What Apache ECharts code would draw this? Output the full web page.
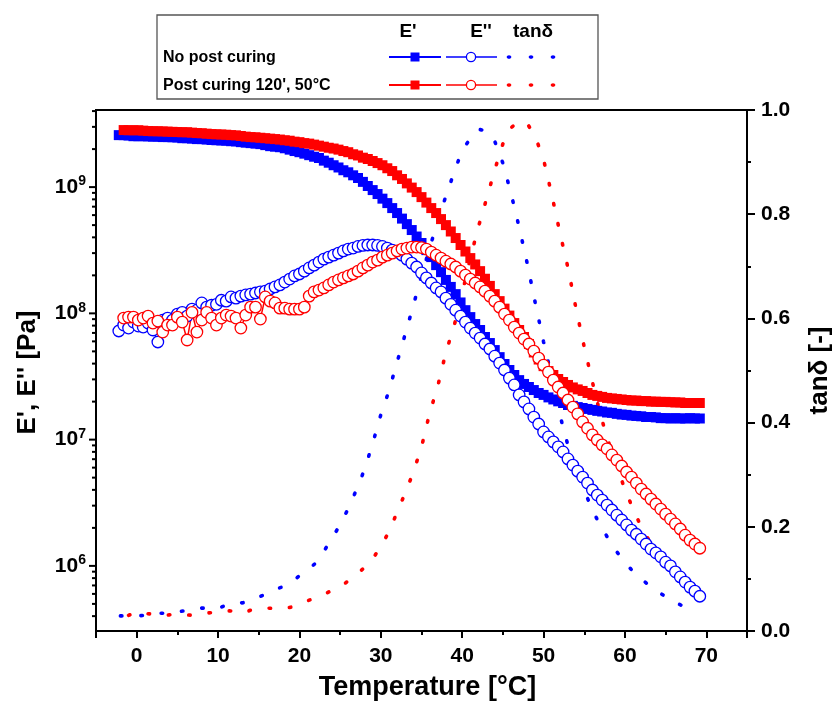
<!DOCTYPE html>
<html><head><meta charset="utf-8">
<script src="https://cdn.jsdelivr.net/npm/echarts@6/dist/echarts.min.js"></script>
<style>html,body{margin:0;padding:0;background:#fff}#c{width:835px;height:713px}</style>
</head><body><div id="c"></div>
<script>
// ---- data ----
const temperature = [
  -2.2,-1.6,-1.0,-0.4,0.2,0.8,1.4,2.0,2.6,3.2,
  3.8,4.4,5.0,5.6,6.2,6.8,7.4,8.0,8.6,9.2,
  9.8,10.4,11.0,11.6,12.2,12.8,13.4,14.0,14.6,15.2,
  15.8,16.4,17.0,17.6,18.2,18.8,19.4,20.0,20.6,21.2,
  21.8,22.4,23.0,23.6,24.2,24.8,25.4,26.0,26.6,27.2,
  27.8,28.4,29.0,29.6,30.2,30.8,31.4,32.0,32.6,33.2,
  33.8,34.4,35.0,35.6,36.2,36.8,37.4,38.0,38.6,39.2,
  39.8,40.4,41.0,41.6,42.2,42.8,43.4,44.0,44.6,45.2,
  45.8,46.4,47.0,47.6,48.2,48.8,49.4,50.0,50.6,51.2,
  51.8,52.4,53.0,53.6,54.2,54.8,55.4,56.0,56.6,57.2,
  57.8,58.4,59.0,59.6,60.2,60.8,61.4,62.0,62.6,63.2,
  63.8,64.4,65.0,65.6,66.2,66.8,67.4,68.0,68.6,69.2
];
const storageNoPost = [
  2.58e9,2.58e9,2.56e9,2.53e9,2.53e9,2.53e9,2.52e9,2.51e9,2.51e9,2.49e9,
  2.49e9,2.48e9,2.47e9,2.44e9,2.44e9,2.42e9,2.40e9,2.40e9,2.38e9,2.36e9,
  2.35e9,2.34e9,2.33e9,2.31e9,2.30e9,2.27e9,2.25e9,2.23e9,2.21e9,2.19e9,
  2.15e9,2.11e9,2.09e9,2.07e9,2.03e9,1.98e9,1.93e9,1.89e9,1.84e9,1.79e9,
  1.74e9,1.70e9,1.62e9,1.56e9,1.49e9,1.43e9,1.36e9,1.31e9,1.24e9,1.18e9,
  1.10e9,1.02e9,9.47e8,8.81e8,8.10e8,7.47e8,6.82e8,6.23e8,5.63e8,5.09e8,
  4.57e8,4.06e8,3.61e8,3.17e8,2.79e8,2.41e8,2.12e8,1.84e8,1.62e8,1.42e8,
  1.22e8,1.06e8,9.34e7,8.23e7,7.38e7,6.50e7,5.82e7,5.12e7,4.50e7,3.97e7,
  3.56e7,3.25e7,2.96e7,2.76e7,2.61e7,2.47e7,2.34e7,2.26e7,2.16e7,2.08e7,
  2.01e7,1.95e7,1.88e7,1.85e7,1.81e7,1.78e7,1.75e7,1.72e7,1.69e7,1.67e7,
  1.64e7,1.63e7,1.60e7,1.58e7,1.57e7,1.55e7,1.54e7,1.53e7,1.51e7,1.51e7,
  1.50e7,1.48e7,1.48e7,1.47e7,1.48e7,1.47e7,1.47e7,1.48e7,1.47e7,1.47e7
];
const storageCured = [
  null,2.83e9,2.82e9,2.82e9,2.82e9,2.80e9,2.78e9,2.77e9,2.77e9,2.76e9,
  2.75e9,2.74e9,2.73e9,2.72e9,2.72e9,2.70e9,2.68e9,2.67e9,2.65e9,2.63e9,
  2.62e9,2.61e9,2.60e9,2.58e9,2.57e9,2.54e9,2.51e9,2.49e9,2.48e9,2.46e9,
  2.44e9,2.42e9,2.40e9,2.38e9,2.35e9,2.33e9,2.29e9,2.27e9,2.23e9,2.21e9,
  2.17e9,2.13e9,2.09e9,2.05e9,2.02e9,1.98e9,1.93e9,1.89e9,1.82e9,1.78e9,
  1.71e9,1.67e9,1.61e9,1.55e9,1.49e9,1.41e9,1.34e9,1.24e9,1.16e9,1.07e9,
  9.91e8,9.13e8,8.33e8,7.54e8,6.82e8,6.23e8,5.58e8,5.00e8,4.45e8,3.95e8,
  3.48e8,3.09e8,2.74e8,2.44e8,2.16e8,1.88e8,1.65e8,1.42e8,1.25e8,1.09e8,
  9.60e7,8.38e7,7.38e7,6.50e7,5.72e7,4.90e7,4.31e7,3.82e7,3.49e7,3.25e7,
  3.02e7,2.86e7,2.71e7,2.59e7,2.50e7,2.43e7,2.34e7,2.26e7,2.22e7,2.18e7,
  2.14e7,2.12e7,2.10e7,2.08e7,2.06e7,2.04e7,2.04e7,2.02e7,2.02e7,2.00e7,
  2.00e7,1.99e7,1.99e7,1.98e7,1.97e7,1.97e7,1.95e7,1.95e7,1.95e7,1.95e7
];
const lossNoPost = [
  7.25e7,8.08e7,7.65e7,8.53e7,7.93e7,7.79e7,8.38e7,7.38e7,5.93e7,8.85e7,
  9.18e7,8.85e7,9.87e7,1.02e8,9.52e7,1.08e8,1.06e8,1.21e8,1.12e8,1.16e8,
  1.18e8,1.27e8,1.25e8,1.35e8,1.32e8,1.37e8,1.40e8,1.42e8,1.45e8,1.48e8,
  1.50e8,1.56e8,1.62e8,1.68e8,1.77e8,1.87e8,1.98e8,2.05e8,2.16e8,2.29e8,
  2.41e8,2.55e8,2.69e8,2.79e8,2.89e8,3.00e8,3.12e8,3.23e8,3.29e8,3.39e8,
  3.45e8,3.48e8,3.48e8,3.45e8,3.39e8,3.29e8,3.17e8,3.06e8,2.89e8,2.69e8,
  2.50e8,2.33e8,2.09e8,1.91e8,1.74e8,1.59e8,1.48e8,1.32e8,1.18e8,1.06e8,
  9.52e7,8.53e7,7.65e7,6.98e7,6.37e7,5.72e7,5.22e7,4.58e7,4.04e7,3.56e7,
  3.07e7,2.71e7,2.26e7,1.99e7,1.75e7,1.51e7,1.33e7,1.15e7,1.05e7,9.60e6,
  8.77e6,7.99e6,7.03e6,6.29e6,5.63e6,5.05e6,4.53e6,3.99e6,3.64e6,3.32e6,
  3.03e6,2.77e6,2.52e6,2.31e6,2.11e6,1.92e6,1.78e6,1.63e6,1.49e6,1.36e6,
  1.27e6,1.18e6,1.07e6,1.00e6,8.97e5,8.18e5,7.45e5,6.79e5,6.31e5,5.75e5
];
const lossCured = [
  null,9.18e7,9.34e7,9.34e7,8.85e7,9.18e7,9.52e7,8.38e7,8.69e7,7.11e7,
  8.08e7,8.08e7,9.34e7,8.53e7,6.15e7,1.02e8,7.11e7,8.85e7,1.02e8,9.18e7,
  8.08e7,9.18e7,9.69e7,9.52e7,9.18e7,7.65e7,9.69e7,1.12e8,1.12e8,9.01e7,
  1.35e8,1.25e8,1.21e8,1.10e8,1.10e8,1.08e8,1.08e8,1.08e8,1.12e8,1.37e8,
  1.48e8,1.53e8,1.59e8,1.68e8,1.77e8,1.84e8,1.91e8,1.98e8,2.05e8,2.16e8,
  2.29e8,2.41e8,2.55e8,2.64e8,2.79e8,2.89e8,3.00e8,3.12e8,3.23e8,3.29e8,
  3.35e8,3.35e8,3.32e8,3.23e8,3.06e8,2.89e8,2.74e8,2.59e8,2.46e8,2.33e8,
  2.16e8,2.01e8,1.87e8,1.74e8,1.62e8,1.50e8,1.37e8,1.25e8,1.12e8,9.87e7,
  8.85e7,7.79e7,6.98e7,6.26e7,5.72e7,5.03e7,4.42e7,3.89e7,3.43e7,2.96e7,
  2.61e7,2.34e7,2.06e7,1.81e7,1.60e7,1.38e7,1.23e7,1.09e7,9.93e6,9.09e6,
  8.46e6,7.56e6,6.89e6,6.18e6,5.54e6,5.05e6,4.53e6,4.06e6,3.71e6,3.38e6,
  3.09e6,2.82e6,2.57e6,2.35e6,2.15e6,1.96e6,1.75e6,1.60e6,1.49e6,1.38e6
];
const tanTemperature = [
  -2,-1,0,1,2,3,4,5,6,7,
  8,9,10,11,12,13,14,15,16,17,
  18,19,20,21,22,23,24,25,26,27,
  28,29,30,31,32,33,34,35,36,37,
  38,39,40,41,42,43,44,45,46,47,
  48,49,50,51,52,53,54,55,56,57,
  58,59,60,61,62,63,64,65,66,67,
  68,69
];
const tanNoPost = [
  0.029,0.029,0.029,0.030,0.034,0.034,0.034,0.037,0.039,0.041,
  0.044,0.043,0.043,0.050,0.054,0.054,0.058,0.065,0.072,0.080,
  0.085,0.093,0.106,0.118,0.130,0.153,0.178,0.204,0.235,0.271,
  0.310,0.360,0.415,0.461,0.516,0.570,0.625,0.682,0.735,0.787,
  0.835,0.880,0.923,0.945,0.963,0.960,0.940,0.898,0.840,0.775,
  0.705,0.628,0.555,0.488,0.415,0.356,0.310,0.270,0.232,0.202,
  0.176,0.152,0.132,0.114,0.100,0.087,0.076,0.066,0.056,0.049,
  0.043,0.038
];
const tanCured = [
  null,0.030,0.037,0.034,0.032,0.029,0.031,0.033,0.031,0.030,
  0.033,0.035,0.035,0.039,0.038,0.034,0.040,0.044,0.044,0.043,
  0.042,0.046,0.052,0.058,0.064,0.070,0.078,0.085,0.096,0.108,
  0.122,0.138,0.163,0.190,0.228,0.265,0.305,0.353,0.418,0.470,
  0.535,0.585,0.648,0.716,0.776,0.830,0.885,0.935,0.966,0.978,
  0.974,0.948,0.905,0.838,0.765,0.697,0.618,0.545,0.478,0.414,
  0.362,0.315,0.272,0.234,0.200,0.173,0.150,0.130,0.114,0.098,
  0.085,0.073
];
const logMajorTicks = [1e6, 1e7, 1e8, 1e9];
const logMinorTicks = [
  4e5,5e5,6e5,7e5,8e5,9e5,
  2e6,3e6,4e6,5e6,6e6,7e6,8e6,9e6,
  2e7,3e7,4e7,5e7,6e7,7e7,8e7,9e7,
  2e8,3e8,4e8,5e8,6e8,7e8,8e8,9e8,
  2e9,3e9,4e9
];
const seriesNames = ['No post curing', "Post curing 120', 50°C"];
const headerLabels = ["E'", "E''", 'tanδ'];
const xRange = [-5, 75];
const yLogRange = [3.05e5, 4.08e9];
const tanRange = [0, 1];

// ---- chart ----
const FONT = '"Liberation Sans", Arial, Helvetica, sans-serif';
const BLUE = '#0000ff', RED = '#ff0000';
const pair = (xs, ys) => xs.map((x, i) => [x, ys[i]]);

const chart = echarts.init(document.getElementById('c'), null, {renderer: 'canvas'});

const blackLine = {show: true, onZero: false, lineStyle: {color: '#000', width: 2}};
const labelStyle = {fontSize: 21, fontWeight: 'bold', color: '#000', fontFamily: FONT};
const nameStyle = (size, padding) => ({fontSize: size, fontWeight: 'bold', color: '#000', fontFamily: FONT, padding});

function eprime(name, data, color) {
  return {
    name, type: 'line', xAxisIndex: 0, yAxisIndex: 0, data,
    symbol: 'rect', symbolSize: 10, showSymbol: true, showAllSymbol: true,
    itemStyle: {color}, lineStyle: {color, width: 2},
    emphasis: {disabled: true}, silent: true, animation: false
  };
}
function edouble(name, data, color) {
  return {
    name, type: 'line', xAxisIndex: 0, yAxisIndex: 0, data,
    symbol: 'circle', symbolSize: 11.5, showSymbol: true, showAllSymbol: true,
    itemStyle: {color: '#fff', borderColor: color, borderWidth: 1.3},
    lineStyle: {color, width: 1.5},
    emphasis: {disabled: true}, silent: true, animation: false
  };
}
function tand(name, data, color) {
  return {
    name, type: 'line', xAxisIndex: 0, yAxisIndex: 1, data,
    symbol: 'none', showSymbol: false,
    lineStyle: {color, width: 3.6, type: [1.5, 19], cap: 'round'},
    emphasis: {disabled: true}, silent: true, animation: false
  };
}

// legend table (drawn as graphic)
const legendBox = {x: 157, y: 15, w: 441, h: 84};
const colX = [415, 471, 531];
const headerY = 32;
const rowY = [57, 85];
const rowColors = [BLUE, RED];
const graphic = [
  {type: 'rect', shape: {x: legendBox.x, y: legendBox.y, width: legendBox.w, height: legendBox.h},
   style: {fill: '#fff', stroke: '#555', lineWidth: 1.3}, z: 100}
];
const headerX = [408, 481, 533];
headerLabels.forEach((t, i) => graphic.push({type: 'text', z: 101,
  style: {text: t, x: headerX[i], y: headerY, fill: '#000', font: 'bold 19px ' + FONT, align: 'center', verticalAlign: 'middle'}}));
seriesNames.forEach((t, r) => {
  const c = rowColors[r], y = rowY[r];
  graphic.push({type: 'text', z: 101, style: {text: t, x: 163, y: y + 1, fill: '#000', font: 'bold 16px ' + FONT, align: 'left', verticalAlign: 'middle'}});
  graphic.push({type: 'line', z: 101, shape: {x1: colX[0] - 26, y1: y, x2: colX[0] + 26, y2: y}, style: {stroke: c, lineWidth: 2}});
  graphic.push({type: 'rect', z: 102, shape: {x: colX[0] - 4.5, y: y - 4.5, width: 9, height: 9}, style: {fill: c}});
  graphic.push({type: 'line', z: 101, shape: {x1: colX[1] - 25, y1: y, x2: colX[1] + 26, y2: y}, style: {stroke: c, lineWidth: 1.6}});
  graphic.push({type: 'circle', z: 102, shape: {cx: colX[1], cy: y, r: 4.6}, style: {fill: '#fff', stroke: c, lineWidth: 1.3}});
  [509, 531, 553].forEach(dx => graphic.push({type: 'ellipse', z: 101, shape: {cx: dx, cy: y, rx: 2.3, ry: 1.8}, style: {fill: c}}));
});

const option = {
  backgroundColor: '#fff',
  animation: false,
  grid: {left: 96, right: 88, top: 110, bottom: 82, show: true, borderColor: '#000', borderWidth: 2, containLabel: false, outerBoundsMode: 'none'},
  xAxis: [
    {type: 'value', min: xRange[0], max: xRange[1], interval: 5, position: 'bottom',
     axisLine: blackLine,
     axisTick: {show: true, inside: false, length: 4, lineStyle: {color: '#000', width: 2}},
     axisLabel: Object.assign({margin: 15, formatter: v => (Math.round(v) % 10 === 0 ? String(Math.round(v)) : '')}, labelStyle),
     splitLine: {show: false},
     name: 'Temperature [°C]', nameLocation: 'middle', nameGap: 43, nameTextStyle: nameStyle(27, [0, 0, 0, 12])},
    {type: 'value', min: xRange[0], max: xRange[1], splitNumber: 8, position: 'bottom',
     axisLine: {show: false, onZero: false},
     axisTick: {show: true, inside: false, length: 7, lineStyle: {color: '#000', width: 2}},
     axisLabel: {show: false}, splitLine: {show: false}}
  ],
  yAxis: [
    {type: 'log', min: yLogRange[0], max: yLogRange[1], logBase: 10, position: 'left',
     axisLine: blackLine,
     axisTick: {show: false},
     axisLabel: {margin: 10,
       formatter: v => { const e = Math.log10(v); const r = Math.round(e); return Math.abs(e - r) < 1e-6 ? '{b|10}{s|' + r + '}' : ''; },
       rich: {
         b: {fontSize: 21, fontWeight: 'bold', color: '#000', fontFamily: FONT},
         s: {fontSize: 14, fontWeight: 'bold', color: '#000', fontFamily: FONT, padding: [0, 0, 11, 0]}
       }},
     splitLine: {show: false},
     name: "E', E'' [Pa]", nameLocation: 'middle', nameGap: 55, nameRotate: 90, nameTextStyle: nameStyle(26, [0, 4, 0, 0])},
    {type: 'value', min: tanRange[0], max: tanRange[1], interval: 0.2, position: 'right',
     axisLine: blackLine,
     axisTick: {show: true, inside: false, length: 8, lineStyle: {color: '#000', width: 2}},
     minorTick: {show: true, splitNumber: 2, length: 4, lineStyle: {color: '#000', width: 2}},
     axisLabel: Object.assign({margin: 14, formatter: v => v.toFixed(1)}, labelStyle),
     splitLine: {show: false},
     name: 'tanδ [-]', nameLocation: 'middle', nameGap: 60, nameRotate: 90, nameTextStyle: nameStyle(26, [0, 0, 0, 0])}
  ],
  series: [
    eprime("E' " + seriesNames[0], pair(temperature, storageNoPost), BLUE),
    eprime("E' " + seriesNames[1], pair(temperature, storageCured), RED),
    edouble("E'' " + seriesNames[0], pair(temperature, lossNoPost), BLUE),
    edouble("E'' " + seriesNames[1], pair(temperature, lossCured), RED),
    tand('tanδ ' + seriesNames[0], pair(tanTemperature, tanNoPost), BLUE),
    tand('tanδ ' + seriesNames[1], pair(tanTemperature, tanCured), RED),
    {
      name: 'log ticks', type: 'custom', xAxisIndex: 0, yAxisIndex: 0, silent: true, clip: false, z: 5,
      data: logMajorTicks.map(v => [xRange[0], v, 7]).concat(logMinorTicks.map(v => [xRange[0], v, 4])),
      renderItem: (params, api) => {
        const p = api.coord([api.value(0), api.value(1)]);
        const len = api.value(2);
        return {type: 'line', shape: {x1: p[0] - len, y1: p[1], x2: p[0], y2: p[1]}, style: {stroke: '#000', lineWidth: 2}};
      },
      animation: false
    }
  ],
  graphic: graphic
};
chart.setOption(option);
</script>
</body></html>
